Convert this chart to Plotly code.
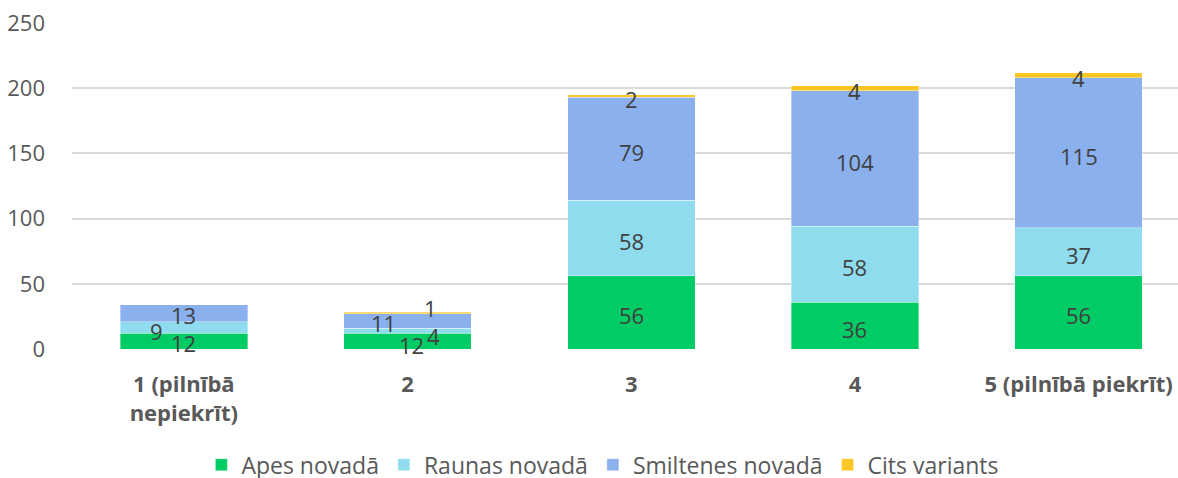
import plotly.graph_objects as go

# Survey answers on a 1–5 agreement scale, split by municipality
categories = ["1 (pilnībā<br>nepiekrīt)", "2", "3", "4", "5 (pilnībā piekrīt)"]
series_names = ["Apes novadā", "Raunas novadā", "Smiltenes novadā", "Cits variants"]
apes = [12, 12, 56, 36, 56]
raunas = [9, 4, 58, 58, 37]
smiltenes = [13, 11, 79, 104, 115]
cits = [0, 1, 2, 4, 4]
y_ticks = [0, 50, 100, 150, 200, 250]

colors = ["#00CC66", "#8FDCEF", "#8AB0EE", "#FCC726"]
FONT = "Open Sans"

series = [apes, raunas, smiltenes, cits]

fig = go.Figure()
for name, vals, col in zip(series_names, series, colors):
    fig.add_trace(go.Bar(
        name=name, x=list(range(len(categories))), y=vals,
        marker=dict(color=col, line=dict(color="rgba(255,255,255,0.6)", width=0.6)),
        hoverinfo="x+y+name",
    ))

# Value labels centred on each segment; a few nudged sideways so small segments stay readable
# (dx, dy) in pixels, dy positive = downwards
nudges = {(1, 0): (-27, 4), (2, 1): (-24, 2), (3, 1): (23, -5), (1, 1): (26, 5), (0, 1): (4, 4),
          (2, 0): (0, 2), (0, 0): (0, 2)}
for i in range(len(categories)):
    base = 0
    for s, vals in enumerate(series):
        v = vals[i]
        if v > 0:
            dx, dy = nudges.get((s, i), (0, 3))
            fig.add_annotation(
                x=i, y=base + v / 2, text=str(v), showarrow=False,
                xshift=dx, yshift=-dy,
                font=dict(family=FONT, size=22, color="#404040"),
            )
        base += v

fig.update_layout(
    barmode="stack",
    bargap=0.43,
    width=1178, height=478,
    margin=dict(l=72, r=0, t=23, b=129, autoexpand=False),
    plot_bgcolor="white", paper_bgcolor="white",
    font=dict(family=FONT, color="#595959"),
    showlegend=True,
    legend=dict(
        orientation="h", x=0.48, xanchor="center", y=-0.355, yanchor="middle",
        font=dict(family=FONT, size=23, color="#595959"),
        itemwidth=30, traceorder="normal",
    ),
    xaxis=dict(
        tickmode="array", tickvals=list(range(len(categories))), ticktext=categories,
        range=[-0.5, 4.444], showgrid=False, zeroline=False, showline=False,
        tickfont=dict(family=FONT, size=22, color="#595959", weight="bold"),
        ticks="", ticklabelstandoff=20,
    ),
    yaxis=dict(
        tickvals=y_ticks, range=[0, 250], showgrid=True, gridcolor="#D9D9D9",
        gridwidth=1.5, zeroline=False, showline=False,
        tickfont=dict(family=FONT, size=22, color="#595959"),
        ticks="", ticklabelstandoff=26,
    ),
)

fig.write_html("out.html")
